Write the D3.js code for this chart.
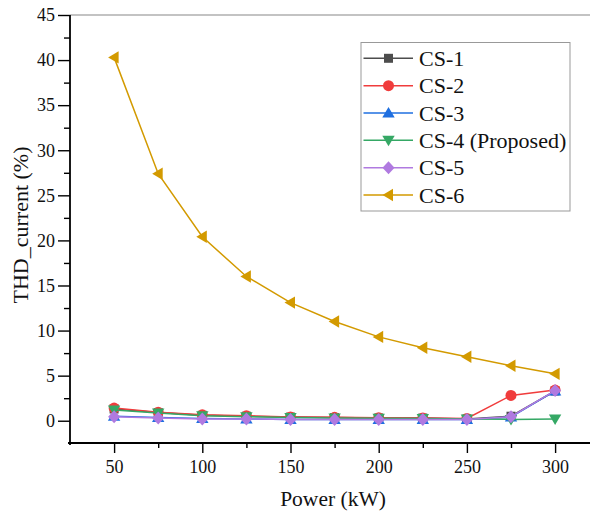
<!DOCTYPE html>
<html><head><meta charset="utf-8">
<script src="https://cdn.jsdelivr.net/npm/d3@7"></script>
<style>body{margin:0;background:#fff}svg{display:block}text{font-family:"Liberation Serif","Times New Roman",serif;fill:#111}</style>
</head><body><svg id="c" width="590" height="514"></svg>
<script>
const power = [50,75,100,125,150,175,200,225,250,275,300];
const seriesNames = ["CS-1","CS-2","CS-3","CS-4 (Proposed)","CS-5","CS-6"];
const cs1 = [1.3,0.9,0.6,0.5,0.4,0.35,0.3,0.3,0.2,0.5,3.3];
const cs2 = [1.4,0.95,0.65,0.55,0.42,0.38,0.33,0.3,0.25,2.8,3.4];
const cs3 = [0.5,0.35,0.25,0.2,0.15,0.15,0.15,0.15,0.15,0.4,3.3];
const cs4 = [1.2,0.85,0.55,0.45,0.35,0.3,0.28,0.25,0.2,0.15,0.2];
const cs5 = [0.45,0.3,0.2,0.2,0.15,0.15,0.15,0.15,0.15,0.45,3.35];
const cs6 = [40.3,27.4,20.4,16.0,13.1,11.0,9.3,8.1,7.1,6.1,5.2];
const xTicks = [50,100,150,200,250,300];
const xMinor = [75,125,175,225,275];
const yTicks = [0,5,10,15,20,25,30,35,40,45];
const yMinor = [2.5,7.5,12.5,17.5,22.5,27.5,32.5,37.5,42.5];
const colors = ["#4d4d4d","#f03c3c","#1f6fe0","#35a865","#b07ae0","#d39a00"];
const symbols = ["square","circle","up","down","diamond","left"];
const values = [cs1,cs2,cs3,cs4,cs5,cs6];

const svg = d3.select("#c");
const L=70, T=15, B=443;
const x = d3.scaleLinear().domain([25,325]).range([L, L+529.2]);
const y = d3.scaleLinear().domain([-2.47,45]).range([B, T]);

// top border
svg.append("line").attr("x1",L).attr("x2",590).attr("y1",T).attr("y2",T).attr("stroke","#888").attr("stroke-width",1.2);

// axes
const xa = svg.append("g").attr("transform",`translate(0,${B})`);
xa.call(d3.axisBottom(x).tickValues(xTicks).tickSize(10).tickPadding(7).tickFormat(d3.format("d")));
xa.append("g").call(d3.axisBottom(x).tickValues(xMinor).tickSize(5).tickFormat(""));
xa.selectAll(".domain").remove();
xa.append("line").attr("x1",L-2).attr("x2",590).attr("stroke","#000").attr("stroke-width",1.8);
const ya = svg.append("g").attr("transform",`translate(${L},0)`);
ya.call(d3.axisLeft(y).tickValues(yTicks).tickSize(12).tickPadding(3));
ya.append("g").call(d3.axisLeft(y).tickValues(yMinor).tickSize(6).tickFormat(""));
ya.selectAll(".domain").remove();
ya.append("line").attr("y1",T).attr("y2",B+2).attr("stroke","#000").attr("stroke-width",1.8);
svg.selectAll(".tick line").attr("stroke","#000").attr("stroke-width",1.4);
svg.selectAll(".tick text").style("font-size","18px").style("font-family","'Liberation Serif',serif").attr("fill","#111");

// labels
svg.append("text").attr("x",333).attr("y",506).attr("text-anchor","middle").style("font-size","21.5px").text("Power (kW)");
svg.append("text").attr("transform","translate(28,225) rotate(-90)").attr("text-anchor","middle").style("font-size","22px").text("THD_current (%)");

function marker(g, sym, cx, cy, col){
  let p;
  if(sym==="square") p=`M${cx-4.5},${cy-4.5}h9v9h-9z`;
  else if(sym==="circle") return g.append("circle").attr("cx",cx).attr("cy",cy).attr("r",5.5).attr("fill",col);
  else if(sym==="up") p=`M${cx},${cy-6}L${cx+6.2},${cy+4.5}L${cx-6.2},${cy+4.5}Z`;
  else if(sym==="down") p=`M${cx},${cy+6}L${cx+6.2},${cy-4.5}L${cx-6.2},${cy-4.5}Z`;
  else if(sym==="diamond") p=`M${cx},${cy-6.5}L${cx+6},${cy}L${cx},${cy+6.5}L${cx-6},${cy}Z`;
  else if(sym==="left") p=`M${cx-6},${cy}L${cx+4.5},${cy-6.2}L${cx+4.5},${cy+6.2}Z`;
  return g.append("path").attr("d",p).attr("fill",col);
}

const line = d3.line().x((d,i)=>x(power[i])).y(d=>y(d));
values.forEach((vals,k)=>{
  const g = svg.append("g");
  g.append("path").datum(vals).attr("d",line).attr("fill","none").attr("stroke",colors[k]).attr("stroke-width",1.5);
  vals.forEach((v,i)=>marker(g,symbols[k],x(power[i]),y(v),colors[k]));
});

// legend
const lg = svg.append("g");
lg.append("rect").attr("x",361).attr("y",42.5).attr("width",209).attr("height",168.5).attr("fill","#fff").attr("stroke","#999").attr("stroke-width",1);
seriesNames.forEach((n,k)=>{
  const yy = 58.3 + k*27.35;
  lg.append("line").attr("x1",363.5).attr("x2",413).attr("y1",yy).attr("y2",yy).attr("stroke",colors[k]).attr("stroke-width",1.5);
  marker(lg,symbols[k],388.5,yy,colors[k]);
  lg.append("text").attr("x",419).attr("y",yy+7.5).style("font-size","22px").text(n);
});
</script></body></html>
